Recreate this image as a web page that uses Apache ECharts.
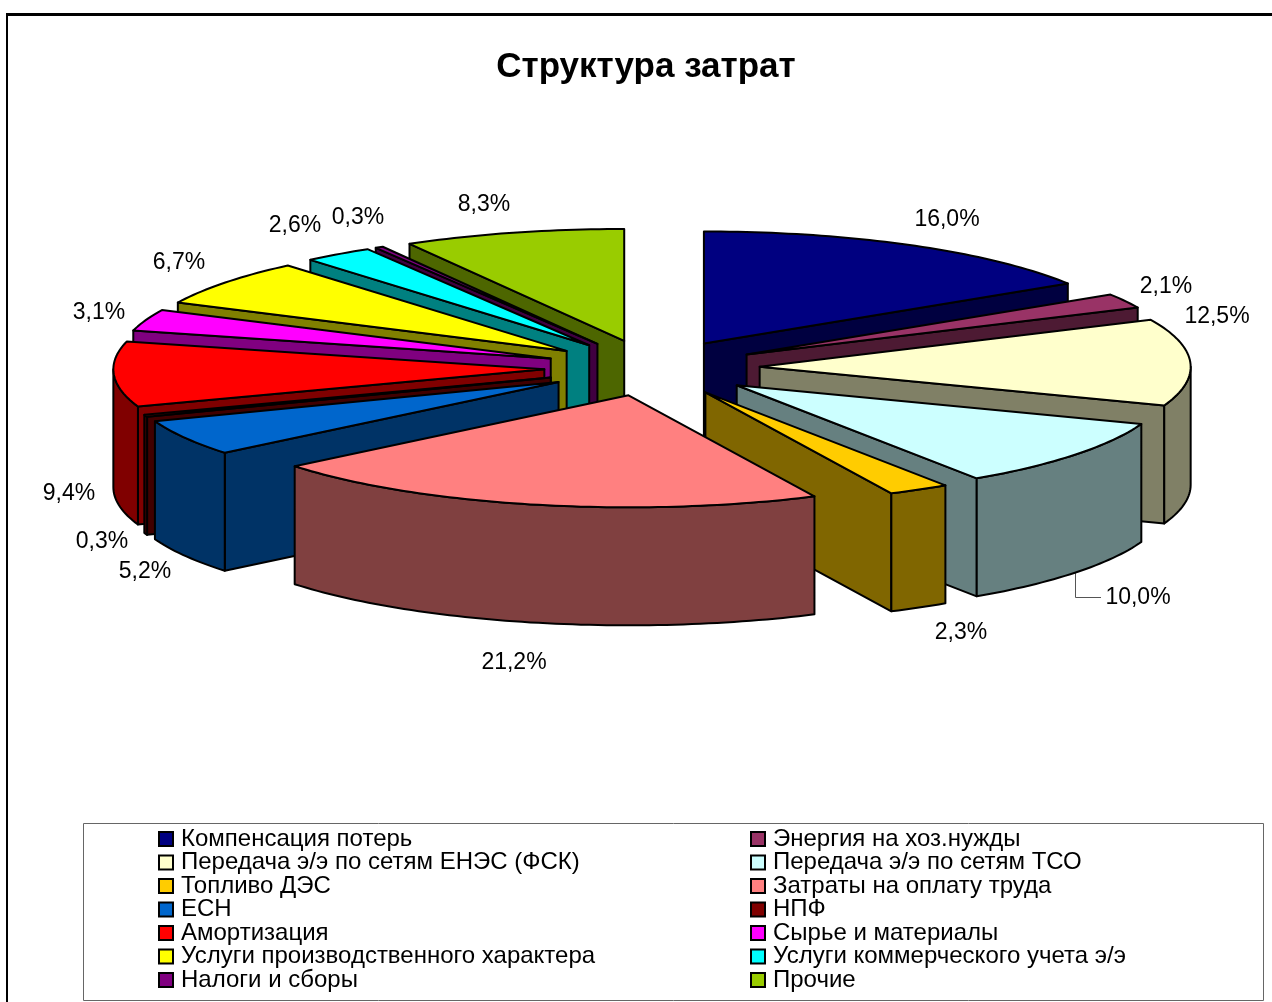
<!DOCTYPE html>
<html>
<head>
<meta charset="utf-8">
<style>
  html, body { margin: 0; padding: 0; background: #fff; }
  #chart { width: 1272px; height: 1002px; }
</style>
<script src="https://cdn.jsdelivr.net/npm/echarts@6/dist/echarts.min.js"></script>
</head>
<body>
<div id="chart"></div>
<script>
// данные с картинки
const categories = [
  "Компенсация потерь", "Энергия на хоз.нужды",
  "Передача э/э по сетям ЕНЭС (ФСК)", "Передача э/э по сетям ТСО",
  "Топливо ДЭС", "Затраты на оплату труда",
  "ЕСН", "НПФ",
  "Амортизация", "Сырье и материалы",
  "Услуги производственного характера", "Услуги коммерческого учета э/э",
  "Налоги и сборы", "Прочие",
];
const shares = [16.0, 2.1, 12.5, 10.0, 2.3, 21.2, 5.2, 0.3, 9.4, 3.1, 6.7, 2.6, 0.3, 8.3];

// оформление
const topColors = [
  "#000080", "#993366", "#ffffcc", "#ccffff", "#ffcc00", "#ff8080", "#0066cc",
  "#800000", "#ff0000", "#ff00ff", "#ffff00", "#00ffff", "#800080", "#99cc00",
];
const sideColors = [
  "#000040", "#4d1a33", "#808066", "#668080", "#806600", "#804040", "#003366",
  "#400000", "#800000", "#800080", "#808000", "#008080", "#400040", "#4d6600",
];
// центры подписей в пикселях
const labelCenters = [
  [947, 220], [1166, 287], [1217, 317], [1138, 598], [961, 633], [514, 663], [145, 572],
  [102, 542], [69, 494], [99, 313], [179, 263], [295, 226], [358, 218], [484, 205],
];

// геометрия псевдо-3D круга
const CX = 652;
const CY = 368;
const RX = 431;
const RY = 112;
const DEPTH = 118;
const EXPLODE = 0.25;
const FONT = "Liberation Sans";

const total = shares.reduce((a, b) => a + b, 0);
let acc = 0;
const slices = shares.map(function (v) {
  const start = (acc / total) * 2 * Math.PI;
  acc += v;
  const end = (acc / total) * 2 * Math.PI;
  const mid = (start + end) / 2;
  return {
    start: start,
    end: end,
    mid: mid,
    ox: CX + RX * EXPLODE * Math.sin(mid),
    oy: CY - RY * EXPLODE * Math.cos(mid),
  };
});

function edgePoint(s, a) {
  return [s.ox + RX * Math.sin(a), s.oy - RY * Math.cos(a)];
}

function arcPoints(s, from, to) {
  const n = Math.max(2, Math.ceil((to - from) / 0.02));
  const pts = [];
  for (let i = 0; i <= n; i++) {
    pts.push(edgePoint(s, from + ((to - from) * i) / n));
  }
  return pts;
}

function down(p) {
  return [p[0], p[1] + DEPTH];
}

function face(points, fill) {
  return {
    type: "polygon",
    shape: { points: points },
    style: { fill: fill, stroke: "#000", lineWidth: 2, lineJoin: "round" },
  };
}

function wall(s, a, fill) {
  const apex = [s.ox, s.oy];
  const p = edgePoint(s, a);
  return face([apex, p, down(p), down(apex)], fill);
}

function renderSlice(i) {
  const s = slices[i];
  const side = sideColors[i];
  const children = [];
  // внутренние стенки видны только со стороны зрителя
  if (Math.sin(s.start) < 0) children.push(wall(s, s.start, side));
  if (Math.sin(s.end) > 0) children.push(wall(s, s.end, side));
  // внешняя стенка - только передняя половина
  const from = Math.max(s.start, Math.PI / 2);
  const to = Math.min(s.end, (3 * Math.PI) / 2);
  if (from < to) {
    const top = arcPoints(s, from, to);
    children.push(face(top.concat(top.map(down).reverse()), side));
  }
  const apex = [s.ox, s.oy];
  children.push(face([apex].concat(arcPoints(s, s.start, s.end)), topColors[i]));
  return { type: "group", children: children };
}

// дальние секторы рисуются первыми
const order = shares
  .map((v, i) => i)
  .sort((a, b) => Math.cos(slices[b].mid) - Math.cos(slices[a].mid));

const sliceSeries = categories.map(function (name, i) {
  return {
    type: "custom",
    name: name,
    coordinateSystem: "none",
    z: 2 + order.indexOf(i),
    silent: true,
    itemStyle: { color: topColors[i] },
    data: [shares[i]],
    renderItem: function () {
      return renderSlice(i);
    },
  };
});

const labelSeries = {
  type: "custom",
  name: "labels",
  coordinateSystem: "none",
  z: 50,
  silent: true,
  data: shares,
  renderItem: function (params, api) {
    const i = params.dataIndex;
    return {
      type: "text",
      x: labelCenters[i][0],
      y: labelCenters[i][1],
      style: {
        text: api.value(0).toFixed(1).replace(".", ",") + "%",
        font: "23px " + FONT,
        fill: "#000",
        align: "center",
        verticalAlign: "middle",
      },
    };
  },
};

function legendColumn(left, names) {
  return {
    orient: "vertical",
    left: left,
    top: 827,
    height: 175,
    padding: 0,
    itemWidth: 14,
    itemHeight: 14,
    itemGap: -0.5,
    icon: "rect",
    selectedMode: false,
    itemStyle: { borderColor: "#000", borderWidth: 2 },
    textStyle: {
      fontFamily: FONT,
      fontSize: 24,
      lineHeight: 23,
      color: "#000",
      padding: [0, 0, 0, 3],
    },
    data: names,
  };
}

const chart = echarts.init(document.getElementById("chart"));
chart.setOption({
  animation: false,
  backgroundColor: "#fff",
  title: {
    text: "Структура затрат",
    left: 646,
    top: 50,
    padding: 0,
    textAlign: "center",
    textStyle: { fontFamily: FONT, fontSize: 35, fontWeight: "bold", color: "#000" },
  },
  legend: [
    legendColumn(158, categories.filter((n, i) => i % 2 === 0)),
    legendColumn(750, categories.filter((n, i) => i % 2 === 1)),
  ],
  graphic: [
    {
      type: "polyline",
      shape: { points: [[7, 1010], [7, 14]] },
      style: { fill: null, stroke: "#000", lineWidth: 2 },
      z: 0,
    },
    {
      type: "polyline",
      shape: { points: [[6, 14.5], [1280, 14.5]] },
      style: { fill: null, stroke: "#000", lineWidth: 3 },
      z: 0,
    },
    {
      type: "rect",
      shape: { x: 83.5, y: 823.5, width: 1180, height: 177 },
      style: { fill: "#fff", stroke: "#666", lineWidth: 1 },
      z: 0,
    },
    {
      type: "polyline",
      shape: { points: [[1075.5, 572], [1075.5, 597.5], [1101, 597.5]] },
      style: { fill: null, stroke: "#555", lineWidth: 1 },
      z: 1,
    },
  ],
  series: sliceSeries.concat([labelSeries]),
});
</script>
</body>
</html>
